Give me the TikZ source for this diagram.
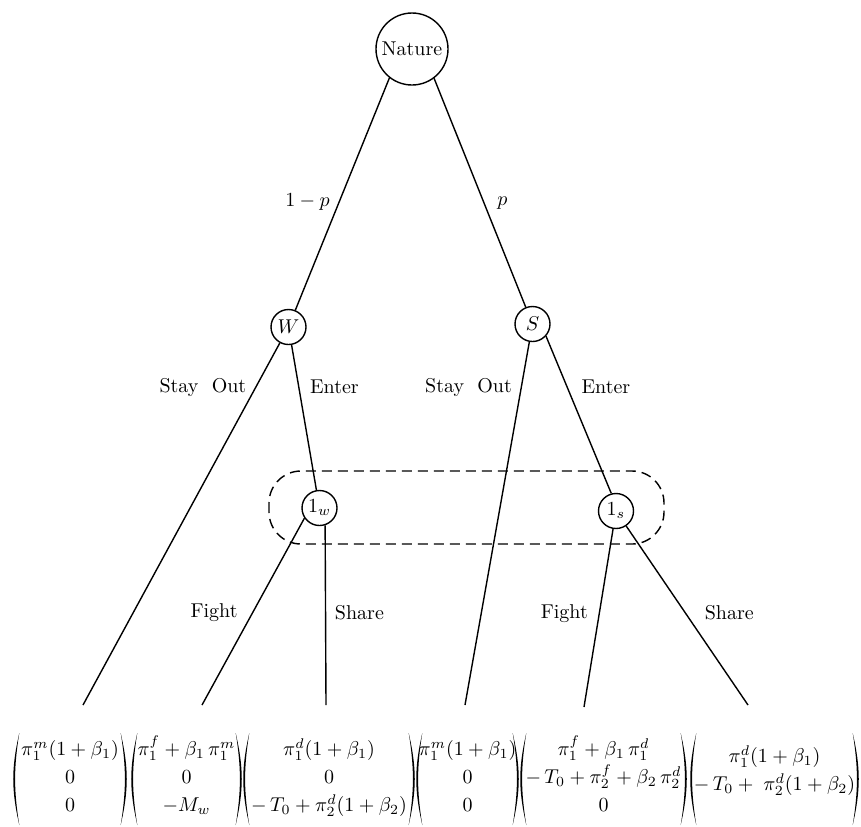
\documentclass[tikz,border=0pt]{standalone}
\usepackage{amsmath}
\usepackage{amssymb}
\usepackage{tikz}
\usetikzlibrary{arrows.meta,shapes}
\renewcommand{\arraystretch}{1.17}
% parentheses round a payoff vector
\newcommand{\vecparens}[1]{%
  \fill ([xshift=2.5pt]#1.west |- ptop) to[bend right=13] ([xshift=2.5pt]#1.west |- pbot) to[bend left=9] ([xshift=2.5pt]#1.west |- ptop) -- cycle;
  \fill ([xshift=-2.5pt]#1.east |- ptop) to[bend left=13] ([xshift=-2.5pt]#1.east |- pbot) to[bend right=9] ([xshift=-2.5pt]#1.east |- ptop) -- cycle;
}

\begin{document}
\begin{tikzpicture}[x=0.5pt, y=-0.5pt, line width=0.7pt,
  chance/.style={draw, circle, inner sep=0pt, minimum size=36pt},
  player/.style={draw, circle, inner sep=0pt, minimum size=17.5pt},
  payoff/.style={inner sep=0pt}]
\useasboundingbox (0,0) rectangle (861,826);

% Decision nodes
\node[chance] (nature) at (412,49) {Nature};
\node[player] (w) at (288.5,327) {$W$};
\node[player] (s) at (532.5,324) {$S$};
\node[player] (incw) at (319.5,508) {$1_w$};
\node[player] (incs) at (616,511) {$1_s$};

% Ends of the branches
\coordinate (l1) at (83,705);
\coordinate (l2) at (202,705);
\coordinate (l3) at (326,705);
\coordinate (l4) at (465,705);
\coordinate (l5) at (584,707);
\coordinate (l6) at (748,705);
\coordinate (ptop) at (0,733);
\coordinate (pbot) at (0,825);

% Nature moves
\draw (nature.232) -- node[pos=0.534, left=1pt] {$1-p$} (w);
\draw (nature.307) -- node[pos=0.544, right=3pt] {$p$} (s);

% Entrant moves
\draw (w) -- node[pos=0.123, left=1pt] {Stay\ \ Out} (l1);
\draw (w) -- node[pos=0.286, right=2pt] {Enter} (incw);
\draw (s) -- node[pos=0.126, left=1pt] {Stay\ \ Out} (l4);
\draw (s.318) -- node[pos=0.325, right=3.5pt] {Enter} (incs.105);

% Incumbent moves
\draw (incw.214) -- node[pos=0.503, left=4pt] {Fight} (l2);
\draw (incw.288) -- node[pos=0.486, right=1pt] {Share} (l3);
\draw (incs) -- node[pos=0.478, left=2pt] {Fight} (l5);
\draw (incs) -- node[pos=0.486, right=6pt] {Share} (l6);

% Information set
\draw[dash pattern=on 5pt off 3pt, rounded corners=16pt] (269,471) rectangle (664,544);

% Payoffs
\node[payoff, minimum width=55pt] (v1) at (70,778) {$\begin{matrix}\pi^m_1(1+\beta_1)\\ 0\\ 0\end{matrix}$};
\node[payoff, minimum width=53.5pt] (v2) at (186.5,778) {$\begin{matrix}\pi^f_1+\beta_1\,\pi^m_1\\ 0\\ -M_w\end{matrix}$};
\node[payoff, minimum width=84pt] (v3) at (329,778) {$\begin{matrix}\pi^d_1(1+\beta_1)\\ 0\\ -\,T_0+\pi^d_2(1+\beta_2)\end{matrix}$};
\node[payoff, minimum width=49.5pt] (v4) at (467.5,778) {$\begin{matrix}\pi^m_1(1+\beta_1)\\ 0\\ 0\end{matrix}$};
\node[payoff, minimum width=81.5pt] (v5) at (603.5,778) {$\begin{matrix}\pi^f_1+\beta_1\,\pi^d_1\\ -\,T_0+\pi^f_2+\beta_2\,\pi^d_2\\ 0\end{matrix}$};
\node[payoff, minimum width=82.5pt] (v6) at (774.5,771) {$\begin{matrix}\pi^d_1(1+\beta_1)\\ -\,T_0+\;\pi^d_2(1+\beta_2)\end{matrix}$};
\foreach \v in {v1,v2,v3,v4,v5,v6}
  \vecparens{\v};
\end{tikzpicture}
\end{document}
